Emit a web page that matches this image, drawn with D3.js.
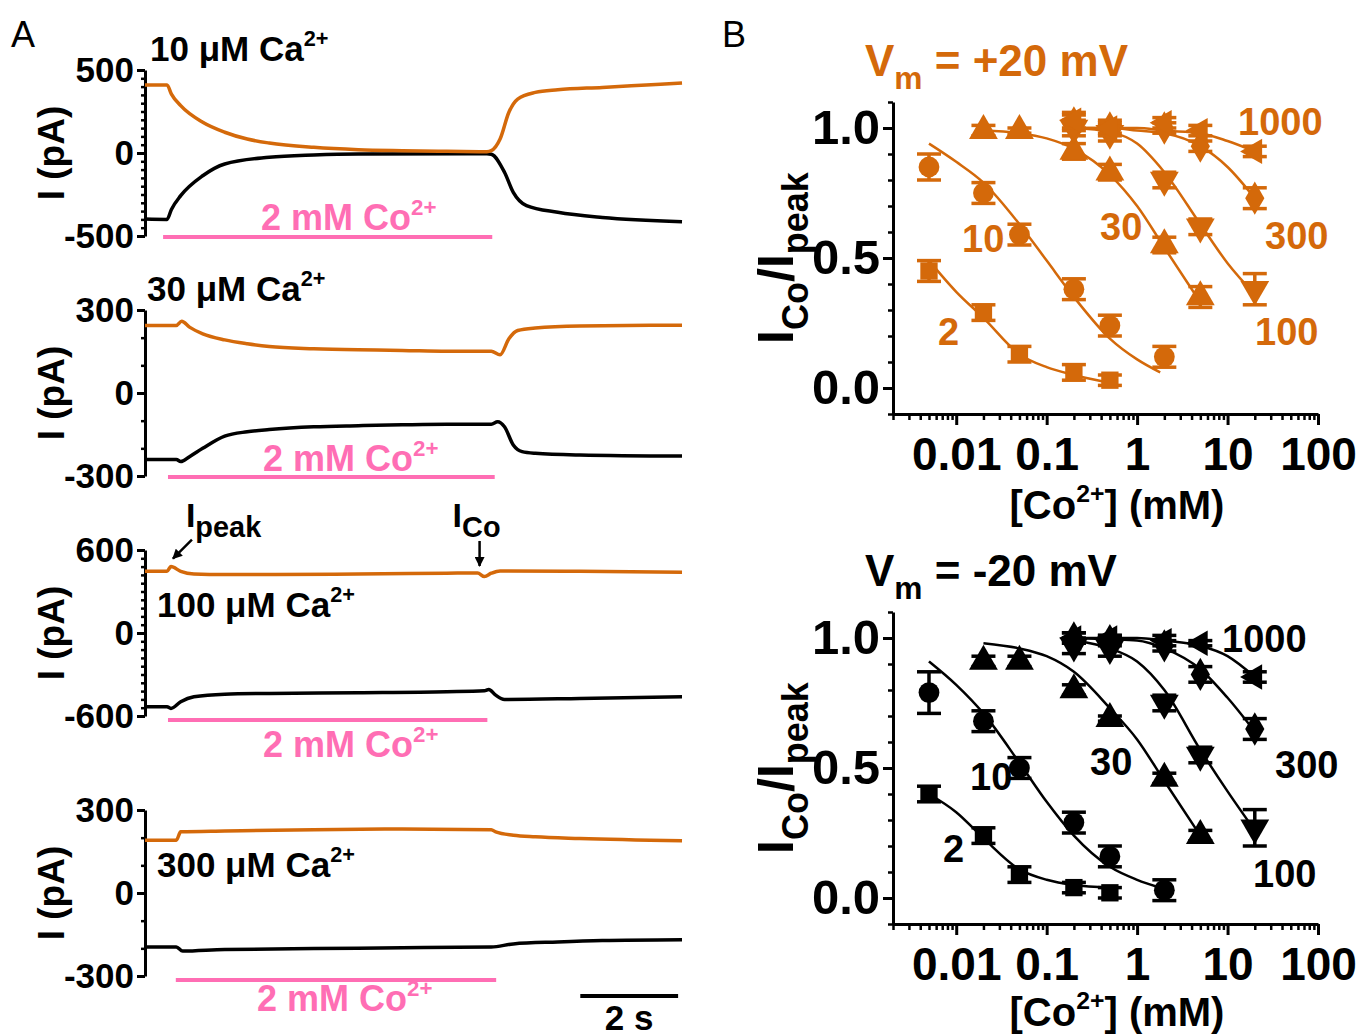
<!DOCTYPE html>
<html><head><meta charset="utf-8">
<script src="https://cdn.jsdelivr.net/npm/d3@7"></script>
<style>
body{margin:0;background:#fff}
svg{display:block}
text{font-family:'Liberation Sans',Arial,Helvetica,sans-serif}
</style>
</head><body>
<svg id="chart" width="1372" height="1036"></svg>
<script>
// ---------------- DATA ----------------
// Panel A: current traces [time (s), current (pA)]
const caLabels = ["10", "30", "100", "300"];
const yTicksA = [[-500, 0, 500], [-300, 0, 300], [-600, 0, 600], [-300, 0, 300]];
const minorStepA = [50, 100, 60, 100];
const coBarTimes = [[0.37, 7.1], [0.47, 7.15], [0.47, 7.0], [0.63, 7.18]];

const ca10Pos = [[0,410],[0.45,410],[0.54,355],[0.73,285],[1.18,185],[1.63,125],[2.09,84],[2.54,60],[3.45,34],[4.36,20],[5.26,14],[6.17,10],[6.99,8],[7.08,14],[7.26,84],[7.44,245],[7.62,325],[7.98,365],[8.44,381],[9.35,395],[10.25,410],[10.98,422]];
const ca10Neg = [[0,-398],[0.45,-400],[0.54,-340],[0.73,-257],[1.18,-137],[1.63,-66],[2.54,-26],[3.45,-12],[4.36,-6],[6.99,-5],[7.08,-8],[7.35,-116],[7.53,-237],[7.80,-317],[8.44,-357],[9.35,-388],[10.98,-414]];
const ca30Pos = [[0,244],[0.64,244],[0.75,259],[0.91,238],[1.18,214],[1.63,192],[2.09,178],[2.54,168],[3.45,160],[4.36,156],[5.26,154],[6.17,151],[7.08,151],[7.26,138],[7.44,196],[7.62,226],[7.98,235],[8.89,242],[10.98,245]];
const ca30Neg = [[0,-240],[0.64,-240],[0.73,-248],[0.91,-230],[1.18,-200],[1.63,-156],[2.09,-140],[2.54,-132],[3.45,-122],[4.36,-118],[5.26,-115],[6.17,-113],[7.08,-113],[7.21,-104],[7.35,-122],[7.53,-188],[7.71,-212],[7.98,-218],[8.89,-224],[10.98,-228]];
const ca100Pos = [[0,446],[0.45,446],[0.53,480],[0.73,446],[1.0,427],[1.63,422],[2.54,422],[4.36,427],[6.17,432],[6.80,434],[6.94,408],[7.08,432],[7.26,449],[8.89,446],[10.98,439]];
const ca100Neg = [[0,-533],[0.45,-533],[0.53,-545],[0.73,-497],[1.0,-461],[1.63,-442],[2.54,-437],[4.36,-432],[6.17,-425],[6.94,-418],[7.03,-408],[7.17,-449],[7.35,-480],[8.89,-473],[10.98,-461]];
const ca300Pos = [[0,191],[0.64,191],[0.73,221],[1.63,224],[3.45,229],[5.26,231],[7.08,229],[7.17,221],[7.53,209],[7.98,203],[8.89,197],[10.98,189]];
const ca300Neg = [[0,-195],[0.64,-195],[0.77,-210],[1.63,-204],[3.45,-201],[5.26,-198],[7.08,-195],[7.53,-184],[8.44,-177],[9.35,-172],[10.98,-169]];
const tracesPos = [ca10Pos, ca30Pos, ca100Pos, ca300Pos];
const tracesNeg = [ca10Neg, ca30Neg, ca100Neg, ca300Neg];

// Panel B: dose-response [Co2+] (mM) vs ICo/Ipeak
const seriesNames = ["2", "10", "30", "100", "300", "1000"];
const conc2 = [0.005, 0.02, 0.05, 0.2, 0.5];
const conc10 = [0.005, 0.02, 0.05, 0.2, 0.5, 2];
const conc30 = [0.02, 0.05, 0.2, 0.5, 2, 5];
const concHi = [0.2, 0.5, 2, 5, 20];

// Vm = +20 mV
const p20_2 = [0.45, 0.29, 0.13, 0.06, 0.03];     const p20_2e = [0.04, 0.03, 0.03, 0.03, 0.02];
const p20_10 = [0.85, 0.75, 0.59, 0.38, 0.24, 0.12]; const p20_10e = [0.05, 0.04, 0.04, 0.04, 0.04, 0.04];
const p20_30 = [0.99, 0.99, 0.91, 0.83, 0.55, 0.35]; const p20_30e = [0.02, 0.01, 0.03, 0.03, 0.03, 0.04];
const p20_100 = [1.0, 0.98, 0.80, 0.62, 0.38];     const p20_100e = [0.03, 0.03, 0.03, 0.03, 0.06];
const p20_300 = [1.02, 1.0, 1.0, 0.93, 0.73];      const p20_300e = [0.03, 0.03, 0.02, 0.02, 0.04];
const p20_1000 = [1.03, 1.0, 1.02, 0.99, 0.91];    const p20_1000e = [0.03, 0.02, 0.02, 0.02, 0.02];
// Vm = -20 mV
const n20_2 = [0.40, 0.24, 0.09, 0.04, 0.02];      const n20_2e = [0.03, 0.03, 0.03, 0.02, 0.02];
const n20_10 = [0.79, 0.68, 0.50, 0.29, 0.16, 0.03]; const n20_10e = [0.08, 0.04, 0.04, 0.04, 0.04, 0.04];
const n20_30 = [0.91, 0.91, 0.80, 0.69, 0.46, 0.24]; const n20_30e = [0.02, 0.02, 0.02, 0.01, 0.02, 0.02];
const n20_100 = [0.97, 0.96, 0.75, 0.55, 0.27];    const n20_100e = [0.03, 0.03, 0.03, 0.03, 0.07];
const n20_300 = [1.0, 0.99, 0.97, 0.86, 0.65];     const n20_300e = [0.02, 0.02, 0.02, 0.03, 0.04];
const n20_1000 = [1.0, 1.0, 0.99, 0.98, 0.85];     const n20_1000e = [0.02, 0.01, 0.02, 0.01, 0.02];

// fitted curves
const fitConc2 = [0.005, 0.01, 0.02, 0.05, 0.1, 0.2, 0.5];
const fitConc10 = [0.005, 0.01, 0.02, 0.05, 0.1, 0.2, 0.5, 1, 1.8];
const fitConc30 = [0.02, 0.05, 0.1, 0.2, 0.5, 1, 2, 5];
const fitConcHi = [0.2, 0.5, 1, 2, 5, 10, 20];
const fitP2 = [0.49, 0.37, 0.27, 0.13, 0.08, 0.05, 0.02];
const fitP10 = [0.94, 0.87, 0.79, 0.63, 0.49, 0.35, 0.19, 0.11, 0.06];
const fitP30 = [0.99, 0.98, 0.96, 0.92, 0.82, 0.70, 0.54, 0.33];
const fitP100 = [1.0, 0.985, 0.94, 0.83, 0.63, 0.48, 0.36];
const fitP300 = [1.0, 1.0, 0.99, 0.98, 0.93, 0.85, 0.73];
const fitP1000 = [1.0, 1.0, 1.0, 0.99, 0.98, 0.95, 0.91];
const fitN2 = [0.40, 0.33, 0.23, 0.11, 0.07, 0.05, 0.04];
const fitN10 = [0.91, 0.82, 0.71, 0.52, 0.37, 0.24, 0.12, 0.07, 0.04];
const fitN30 = [0.98, 0.96, 0.93, 0.87, 0.73, 0.61, 0.45, 0.24];
const fitN100 = [0.99, 0.96, 0.91, 0.80, 0.57, 0.41, 0.26];
const fitN300 = [1.0, 0.995, 0.99, 0.96, 0.88, 0.77, 0.64];
const fitN1000 = [1.0, 1.0, 1.0, 0.99, 0.97, 0.93, 0.85];

const xTickValsB = [0.01, 0.1, 1, 10, 100];
const xTickLabelsB = ["0.01", "0.1", "1", "10", "100"];
const yTickValsB = [0, 0.5, 1.0];

// ---------------- STYLE ----------------
const ORANGE = "#D4690A";
const PINK = "#FF6EB4";
const FONT = "'Liberation Sans',Arial,sans-serif";
const svg = d3.select("#chart");

function rich(g, x, y, parts, size, o = {}) {
  const t = g.append("text").attr("x", x).attr("y", y).attr("font-size", size)
    .attr("fill", o.fill || "#000").attr("text-anchor", o.anchor || "start")
    .style("font-weight", o.weight || "bold");
  if (o.rotate) t.attr("transform", `rotate(${o.rotate},${x},${y})`);
  let cur = 0;
  parts.forEach(p => {
    const s = p.sup ? -0.42 * size : p.sub ? 0.3 * size : 0;
    const ts = t.append("tspan").text(p.t).attr("dy", s - cur);
    if (p.sup || p.sub) ts.attr("font-size", size * (p.scale || 0.62));
    cur = s;
  });
  return t;
}
function styleTicks(sel, size) {
  sel.selectAll("text").attr("font-size", size).attr("font-family", FONT)
    .style("font-weight", "bold").attr("fill", "#000");
}

// ---------------- PANEL A ----------------
rich(svg, 11, 47, [{ t: "A" }], 36, { weight: "normal" });
const xA = d3.scaleLinear().domain([0, 11]).range([145, 683]);
const yRangesA = [[236, 70], [476, 310], [716, 550], [976, 810]];
const titlePos = [[150, 61], [147, 301], [157, 617], [157, 877]];
const pinkLabelPos = [[261, 230], [263, 471], [263, 757], [257, 1011]];
const barY = [237, 477, 720, 980];

tracesPos.forEach((pos, i) => {
  const y = d3.scaleLinear().domain([yTicksA[i][0], yTicksA[i][2]]).range(yRangesA[i]);
  const g = svg.append("g");
  const minor = d3.range(yTicksA[i][0], yTicksA[i][2] + 0.1, minorStepA[i]);
  g.append("g").attr("transform", "translate(145,0)")
    .call(d3.axisLeft(y).tickValues(minor).tickSize(4).tickFormat("").tickSizeOuter(0))
    .call(a => a.select(".domain").remove())
    .selectAll("line").attr("stroke-width", 2.5);
  const ax = g.append("g").attr("transform", "translate(145,0)")
    .call(d3.axisLeft(y).tickValues(yTicksA[i]).tickFormat(d => String(d)).tickSize(8).tickPadding(3).tickSizeOuter(0));
  ax.select(".domain").attr("stroke-width", 3);
  ax.selectAll("line").attr("stroke-width", 3);
  styleTicks(ax, 35);
  const ym = (yRangesA[i][0] + yRangesA[i][1]) / 2;
  rich(g, 64, ym, [{ t: "I (pA)" }], 37, { anchor: "middle", rotate: -90 });
  const line = d3.line().x(d => xA(d[0])).y(d => y(d[1])).curve(d3.curveMonotoneX);
  g.append("path").datum(tracesNeg[i]).attr("d", line).attr("fill", "none").attr("stroke", "#000").attr("stroke-width", 3.5);
  g.append("path").datum(pos).attr("d", line).attr("fill", "none").attr("stroke", ORANGE).attr("stroke-width", 3.5);
  g.append("line").attr("x1", xA(coBarTimes[i][0])).attr("x2", xA(coBarTimes[i][1]))
    .attr("y1", barY[i]).attr("y2", barY[i]).attr("stroke", PINK).attr("stroke-width", 4);
  rich(g, pinkLabelPos[i][0], pinkLabelPos[i][1], [{ t: "2 mM Co" }, { t: "2+", sup: true }], 36, { fill: PINK });
  rich(g, titlePos[i][0], titlePos[i][1], [{ t: caLabels[i] + " \u03BCM Ca" }, { t: "2+", sup: true }], 35);
  if (i === 2) {
    const defs = svg.append("defs");
    defs.append("marker").attr("id", "ah").attr("viewBox", "0 0 10 10").attr("refX", 9).attr("refY", 5)
      .attr("markerWidth", 4).attr("markerHeight", 4).attr("orient", "auto")
      .append("path").attr("d", "M0,0 L10,5 L0,10 z").attr("fill", "#000");
    const pk = ca100Pos[2], co = ca100Pos[9];
    const px = xA(pk[0]), py = y(pk[1]);
    g.append("line").attr("x1", px + 21).attr("y1", py - 27).attr("x2", px + 2).attr("y2", py - 8)
      .attr("stroke", "#000").attr("stroke-width", 2.5).attr("marker-end", "url(#ah)");
    const cx = xA(co[0]) + 2, cy = y(co[1]);
    g.append("line").attr("x1", cx).attr("y1", cy - 32).attr("x2", cx).attr("y2", cy - 7)
      .attr("stroke", "#000").attr("stroke-width", 2.5).attr("marker-end", "url(#ah)");
    rich(g, px + 15, py - 40, [{ t: "I" }, { t: "peak", sub: true, scale: 0.85 }], 34);
    rich(g, cx - 27, py - 40, [{ t: "I" }, { t: "Co", sub: true, scale: 0.85 }], 34);
  }
});
svg.append("line").attr("x1", xA(8.9)).attr("x2", xA(10.9)).attr("y1", 996).attr("y2", 996).attr("stroke", "#000").attr("stroke-width", 4);
rich(svg, (xA(8.9) + xA(10.9)) / 2, 1030, [{ t: "2 s" }], 35, { anchor: "middle" });

// ---------------- PANEL B ----------------
rich(svg, 722, 47, [{ t: "B" }], 36, { weight: "normal" });
const xB = d3.scaleLog().domain([0.002, 100]).range([893, 1318]);
const symbolTypes = [d3.symbolSquare, d3.symbolCircle, d3.symbolTriangle, d3.symbolTriangle, d3.symbolDiamond, d3.symbolTriangle];
const symbolRot = [0, 0, 0, 180, 0, -90];
const symbolSize = [300, 340, 360, 360, 320, 280];

function panelB(off, color, title, concs, vals, errs, fitX, fitY, labelPos) {
  const y = d3.scaleLinear().domain([-0.1, 1.1]).range([414 + off, 102 + off]);
  const g = svg.append("g");
  rich(g, 865, 76 + off, [{ t: "V" }, { t: "m", sub: true, scale: 0.72 }, { t: title }], 44, { fill: color });
  const ym = g.append("g").attr("transform", "translate(893,0)")
    .call(d3.axisLeft(y).tickValues(d3.range(-0.1, 1.11, 0.1)).tickSize(5).tickFormat("").tickSizeOuter(0));
  ym.select(".domain").attr("stroke-width", 3);
  ym.selectAll("line").attr("stroke-width", 2.5);
  const ya = g.append("g").attr("transform", "translate(893,0)")
    .call(d3.axisLeft(y).tickValues(yTickValsB).tickFormat(d3.format(".1f")).tickSize(10).tickPadding(3).tickSizeOuter(0));
  ya.select(".domain").remove();
  ya.selectAll("line").attr("stroke-width", 3);
  styleTicks(ya, 49);
  const minorX = [];
  [0.001, 0.01, 0.1, 1, 10].forEach(d => { for (let k = 2; k <= 9; k++) { const v = d * k; if (v >= 0.002 && v < 100) minorX.push(v); } });
  const xm = g.append("g").attr("transform", `translate(0,${414 + off})`)
    .call(d3.axisBottom(xB).tickValues(minorX).tickSize(6).tickFormat("").tickSizeOuter(0));
  xm.select(".domain").attr("stroke-width", 3);
  xm.selectAll("line").attr("stroke-width", 2.5);
  const xa = g.append("g").attr("transform", `translate(0,${414 + off})`)
    .call(d3.axisBottom(xB).tickValues(xTickValsB).tickFormat((d, i) => xTickLabelsB[i]).tickSize(11).tickPadding(12).tickSizeOuter(0));
  xa.select(".domain").remove();
  xa.selectAll("line").attr("stroke-width", 3);
  styleTicks(xa, 46);
  rich(g, 1117, 519 + off - (off ? 3 : 0), [{ t: "[Co" }, { t: "2+", sup: true }, { t: "] (mM)" }], 40, { anchor: "middle" });
  rich(g, 793, 258 + off, [{ t: "I" }, { t: "Co", sub: true, scale: 0.72 }, { t: "/I" }, { t: "peak", sub: true, scale: 0.72 }], 50, { anchor: "middle", rotate: -90 });
  const line = d3.line().x(d => xB(d[0])).y(d => y(d[1])).curve(d3.curveMonotoneX);
  fitX.forEach((fx, s) => {
    g.append("path").datum(fx.map((c, j) => [c, fitY[s][j]])).attr("d", line)
      .attr("fill", "none").attr("stroke", color).attr("stroke-width", 2.5);
  });
  concs.forEach((cs, s) => {
    cs.forEach((c, j) => {
      const v = vals[s][j], e = errs[s][j], cx = xB(c);
      const eg = g.append("g").attr("stroke", color).attr("stroke-width", 3.5);
      eg.append("line").attr("x1", cx).attr("x2", cx).attr("y1", y(v - e)).attr("y2", y(v + e));
      [v - e, v + e].forEach(ev => eg.append("line").attr("x1", cx - 12).attr("x2", cx + 12).attr("y1", y(ev)).attr("y2", y(ev)));
      g.append("path").attr("d", d3.symbol().type(symbolTypes[s]).size(symbolSize[s])())
        .attr("transform", `translate(${cx},${y(v)}) rotate(${symbolRot[s]})`).attr("fill", color);
    });
  });
  seriesNames.forEach((n, s) => {
    rich(g, labelPos[s][0], labelPos[s][1] + off, [{ t: n }], 38, { fill: color });
  });
}

const concAll = [conc2, conc10, conc30, concHi, concHi, concHi];
const fitXAll = [fitConc2, fitConc10, fitConc30, fitConcHi, fitConcHi, fitConcHi];
panelB(0, ORANGE, " = +20 mV", concAll,
  [p20_2, p20_10, p20_30, p20_100, p20_300, p20_1000],
  [p20_2e, p20_10e, p20_30e, p20_100e, p20_300e, p20_1000e],
  fitXAll, [fitP2, fitP10, fitP30, fitP100, fitP300, fitP1000],
  [[938, 345], [962, 252], [1100, 240], [1255, 345], [1265, 249], [1238, 135]]);
panelB(510, "#000", " = -20 mV", concAll,
  [n20_2, n20_10, n20_30, n20_100, n20_300, n20_1000],
  [n20_2e, n20_10e, n20_30e, n20_100e, n20_300e, n20_1000e],
  fitXAll, [fitN2, fitN10, fitN30, fitN100, fitN300, fitN1000],
  [[943, 352], [970, 280], [1090, 265], [1253, 377], [1275, 268], [1222, 142]]);
</script>
</body></html>
